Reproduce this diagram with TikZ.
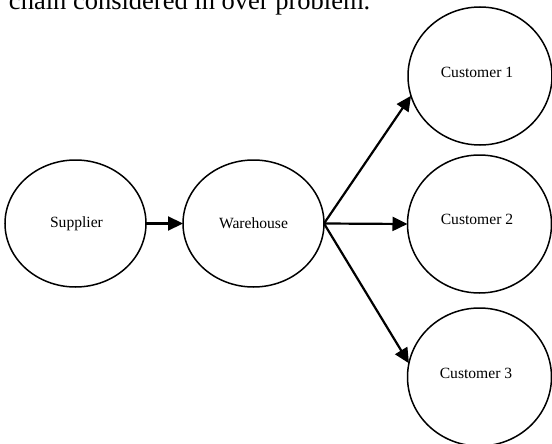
\documentclass[tikz,border=0pt]{standalone}
\usepackage{fontspec}
\setmainfont{Liberation Serif}
\usetikzlibrary{shapes.geometric,arrows.meta}
\begin{document}
\begin{tikzpicture}[x=1pt,y=-1pt,
  site/.style={draw, line width=1.5pt, ellipse, inner sep=0pt, outer sep=0pt,
    minimum width=141pt, minimum height=127pt},
  cust/.style={site, minimum width=144pt, minimum height=138pt},
  lbl/.style={font=\fontsize{15.6}{18}\selectfont},
  flow/.style={line width=2.2pt, -{Triangle[length=15pt,width=14pt]}}]
\useasboundingbox (0,0) rectangle (552,444);
\clip (0,0) rectangle (552,444);
\node[anchor=base west, inner sep=0pt, font=\fontsize{26.5}{30}\selectfont] (title) at (8.8,9.3) {chain considered in over problem.};
\node[site] (sup) at (75.5,223.5) {};
\node[lbl] (supt) at (76.5,223.5) {Supplier};
\node[site] (wh) at (253.5,223.5) {};
\node[lbl] (wht) at (253.5,223.5) {Warehouse};
\node[cust] (c1) at (480,76) {};
\node[lbl] (c1t) at (477,72.7) {Customer 1};
\node[cust] (c2) at (479.5,224) {};
\node[lbl] (c2t) at (477,219) {Customer 2};
\node[cust] (c3) at (479.5,377) {};
\node[lbl] (c3t) at (476,373) {Customer 3};
\draw[flow] (sup.east) -- (wh.west);
\draw[flow] (wh.east) -- (c1.196);
\draw[flow] (wh.east) -- (c2.west);
\draw[flow] (wh.east) -- (c3.169);
\end{tikzpicture}
\end{document}
